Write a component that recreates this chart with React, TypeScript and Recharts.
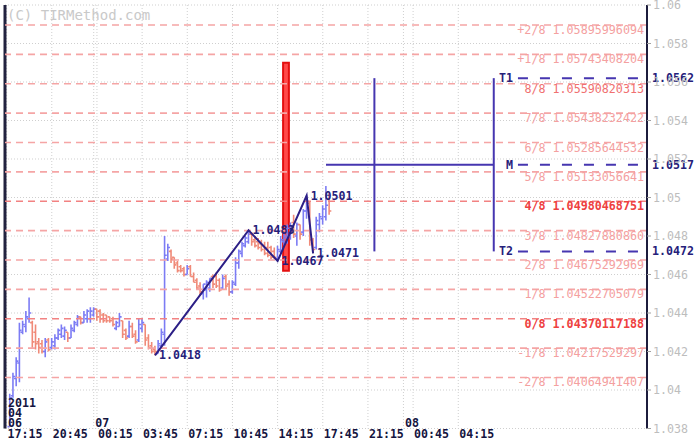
import React from 'react';
import {
  ComposedChart,
  Bar,
  Line,
  XAxis,
  YAxis,
  CartesianGrid,
  ReferenceLine,
  ReferenceArea,
  Customized,
} from 'recharts';

// ---------- data (15-minute bars, index 0 = 2011-04-06 17:15) ----------
const FIRST_BAR = 1;

const opens = [
  1.0381, 1.0397, 1.0406, 1.0414, 1.043, 1.0433, 1.0437, 1.0435, 1.043, 1.0425,
  1.0424, 1.042, 1.0426, 1.0422, 1.0423, 1.0427, 1.0429, 1.0428, 1.043, 1.0427,
  1.0431, 1.0434, 1.0438, 1.0435, 1.0437, 1.0437, 1.0439, 1.0442, 1.0441, 1.0439,
  1.0439, 1.0438, 1.0437, 1.0432, 1.0433, 1.0436, 1.0431, 1.0428, 1.0433, 1.0429,
  1.0426, 1.0432, 1.0434, 1.0427, 1.0423, 1.0421, 1.0419, 1.0423, 1.0429, 1.0468,
  1.0472, 1.0469, 1.0466, 1.0464, 1.0463, 1.046, 1.0464, 1.0459, 1.0457, 1.0454,
  1.045, 1.0452, 1.0453, 1.0459, 1.0459, 1.0457, 1.0453, 1.0459, 1.0455, 1.0451,
  1.0455, 1.0466, 1.0471, 1.0475, 1.0477, 1.0481, 1.0478, 1.0477, 1.0476, 1.0475,
  1.0474, 1.0474, 1.0472, 1.0468, 1.0472, 1.0477, 1.0479, 1.048, 1.0487, 1.048,
  1.0486, 1.0482, 1.0493, 1.0497, 1.0478, 1.0474, 1.0486, 1.0489, 1.049, 1.0499,
];
const highs = [
  1.0398, 1.0409, 1.0417, 1.0435, 1.0436, 1.0441, 1.0448, 1.0436, 1.0434, 1.0427,
  1.0426, 1.0427, 1.0427, 1.0427, 1.0429, 1.0432, 1.0434, 1.0433, 1.043, 1.0434,
  1.0436, 1.0439, 1.0438, 1.0441, 1.0442, 1.0443, 1.0443, 1.0442, 1.0442, 1.044,
  1.0439, 1.0438, 1.0438, 1.0436, 1.044, 1.0436, 1.0432, 1.0436, 1.0435, 1.0431,
  1.0437, 1.0437, 1.0434, 1.0429, 1.0425, 1.0423, 1.0426, 1.0432, 1.048, 1.0476,
  1.0473, 1.0469, 1.0467, 1.0465, 1.0464, 1.0465, 1.0465, 1.0461, 1.0458, 1.0456,
  1.0455, 1.0457, 1.0458, 1.046, 1.0461, 1.0458, 1.046, 1.046, 1.0457, 1.0457,
  1.0469, 1.0473, 1.0477, 1.048, 1.0483, 1.0482, 1.048, 1.0479, 1.0478, 1.0477,
  1.0477, 1.0475, 1.0474, 1.0475, 1.048, 1.0482, 1.0486, 1.0487, 1.0491, 1.0487,
  1.0486, 1.0494, 1.0501, 1.0498, 1.0479, 1.049, 1.0492, 1.0496, 1.0506, 1.0503,
];
const lows = [
  1.0381, 1.0396, 1.0402, 1.0404, 1.0429, 1.043, 1.0435, 1.0422, 1.0421, 1.0419,
  1.0419, 1.0417, 1.042, 1.0421, 1.0421, 1.0426, 1.0427, 1.0426, 1.0425, 1.0427,
  1.043, 1.0433, 1.0434, 1.0435, 1.0435, 1.0435, 1.0438, 1.0436, 1.0435, 1.0435,
  1.0435, 1.0435, 1.0433, 1.0431, 1.0433, 1.0427, 1.0426, 1.0427, 1.0427, 1.0424,
  1.0425, 1.043, 1.0423, 1.0421, 1.0419, 1.0418, 1.0419, 1.0422, 1.0423, 1.0467,
  1.0466, 1.0463, 1.0461, 1.0461, 1.0459, 1.046, 1.0459, 1.0456, 1.0452, 1.0449,
  1.0447, 1.0448, 1.0451, 1.0453, 1.0453, 1.0451, 1.0452, 1.0452, 1.0449, 1.045,
  1.0454, 1.0463, 1.0469, 1.0474, 1.0476, 1.0475, 1.0474, 1.0473, 1.0472, 1.047,
  1.0469, 1.0468, 1.0468, 1.0467, 1.0471, 1.0475, 1.0476, 1.0478, 1.0479, 1.0475,
  1.0478, 1.048, 1.0489, 1.0475, 1.0471, 1.0473, 1.0482, 1.0486, 1.0488, 1.0491,
];
const closes = [
  1.0396, 1.0407, 1.0415, 1.0431, 1.0434, 1.0438, 1.044, 1.0425, 1.0424, 1.0422,
  1.042, 1.0425, 1.0421, 1.0425, 1.0427, 1.0431, 1.0432, 1.0431, 1.0427, 1.0432,
  1.0435, 1.0438, 1.0435, 1.0439, 1.0441, 1.0441, 1.0442, 1.0438, 1.0437, 1.0436,
  1.0436, 1.0436, 1.0434, 1.0435, 1.0438, 1.0429, 1.0427, 1.0433, 1.0428, 1.0425,
  1.0434, 1.0435, 1.0426, 1.0422, 1.042, 1.042, 1.0424, 1.043, 1.047, 1.0474,
  1.0468, 1.0465, 1.0462, 1.0462, 1.046, 1.0463, 1.0459, 1.0456, 1.0453, 1.0451,
  1.0455, 1.0456, 1.0458, 1.0455, 1.0454, 1.0452, 1.0458, 1.0454, 1.0451, 1.0456,
  1.0466, 1.0472, 1.0476, 1.0479, 1.0481, 1.0477, 1.0475, 1.0474, 1.0473, 1.0471,
  1.047, 1.0469, 1.0469, 1.0473, 1.0478, 1.048, 1.0484, 1.0485, 1.0481, 1.0486,
  1.0481, 1.0493, 1.0498, 1.0478, 1.0473, 1.0488, 1.049, 1.0494, 1.0496, 1.0493,
];

// zigzag pivots
const pivotIdx = [46, 75, 84, 93, 95];
const pivotVal = [1.0418, 1.0483, 1.0467, 1.0501, 1.0471];

// Murrey math levels
const murreyNames = ['+2/8', '+1/8', '8/8', '7/8', '6/8', '5/8', '4/8', '3/8', '2/8', '1/8', '0/8', '-1/8', '-2/8'];
const murreyValues = [
  '1.05895996094', '1.05743408204', '1.05590820313', '1.05438232422', '1.05285644532',
  '1.05133056641', '1.04980468751', '1.04827880860', '1.04675292969', '1.04522705079',
  '1.04370117188', '1.04217529297', '1.04064941407',
];
const murreyStrong = ['4/8', '0/8'];
const murreyMedium = ['8/8'];

// projection targets
const targetNames = ['T1', 'M', 'T2'];
const targetValues = [1.0562, 1.0517, 1.0472];
const projStart = 99;
const projMid = 114;
const projEnd = 151;
const targetLineStart = 158.5;

// marker bar
const markerBar = { x1: 85.7, x2: 87.5, y1: 1.0462, y2: 1.057 };

// axes
const xDomain = [-0.5, 198.5];
const timeTickIdx = [0, 14, 28, 42, 56, 70, 84, 98, 112, 126, 140];
const timeLabels = ['17:15', '20:45', '00:15', '03:45', '07:15', '10:45', '14:15', '17:45', '21:15', '00:45', '04:15'];
const dateTickIdx = [0, 27, 123];
const dateLabels = [['2011', '04', '06'], ['07'], ['08']];
const yTicks = [1.038, 1.04, 1.042, 1.044, 1.046, 1.048, 1.05, 1.052, 1.054, 1.056, 1.058, 1.06];

// ---------- styling ----------
const BLUE = '#7c7cf4';
const RED = '#f08a78';
const NAVY = '#25207a';
const PURPLE = '#4636b0';
const MONO = '"DejaVu Sans Mono", monospace';

const data = opens.map((o, k) => {
  const i = FIRST_BAR + k;
  const p = pivotIdx.indexOf(i);
  return {
    i,
    o,
    h: highs[k],
    l: lows[k],
    c: closes[k],
    r: [lows[k], highs[k]],
    zz: p >= 0 ? pivotVal[p] : null,
  };
});

const xTicks = Array.from(new Set([...timeTickIdx, ...dateTickIdx])).sort((a, b) => a - b);

const OhlcShape = (props: any) => {
  const { x, y, width, height, payload } = props;
  if (x == null || y == null || payload == null) return null;
  const top = Math.min(y, y + height);
  const bot = Math.max(y, y + height);
  const span = payload.h - payload.l;
  const py = (p: number) => (span > 0 ? top + ((payload.h - p) / span) * (bot - top) : top);
  const cx = x + width / 2;
  const col = payload.c >= payload.o ? BLUE : RED;
  return (
    <g stroke={col} strokeWidth={1.6}>
      <line x1={cx} x2={cx} y1={top} y2={Math.max(bot, top + 1)} />
      <line x1={cx - 2.2} x2={cx} y1={py(payload.o)} y2={py(payload.o)} />
      <line x1={cx} x2={cx + 2.2} y1={py(payload.c)} y2={py(payload.c)} />
    </g>
  );
};

const TimeTick = (props: any) => {
  const { x, y, payload } = props;
  const v = payload.value;
  const ti = timeTickIdx.indexOf(v);
  const di = dateTickIdx.indexOf(v);
  const style = { fontFamily: MONO, fontSize: 11.6, fontWeight: 700, fill: '#141440' } as any;
  return (
    <g>
      {ti >= 0 && (
        <text x={x + 1} y={y + 9} textAnchor="start" style={style}>
          {timeLabels[ti]}
        </text>
      )}
      {di >= 0 &&
        dateLabels[di].map((s, j) => (
          <text
            key={j}
            x={x + 1.5}
            y={y - 1.5 - (dateLabels[di].length - 1 - j) * 10}
            textAnchor="start"
            style={style}
          >
            {s}
          </text>
        ))}
    </g>
  );
};

const MurreyLabel = (props: any) => {
  const { viewBox, text, name } = props;
  if (!viewBox) return null;
  const strong = murreyStrong.includes(name);
  const medium = murreyMedium.includes(name);
  return (
    <text
      x={viewBox.x + viewBox.width - 3}
      y={viewBox.y + 9}
      textAnchor="end"
      style={{
        fontFamily: MONO,
        fontSize: 11.7,
        fontWeight: strong ? 700 : 400,
        fill: strong ? '#ee4040' : medium ? '#f07070' : '#f4a0a0',
      }}
    >
      {text}
    </text>
  );
};

const TargetLabel = (props: any) => {
  const { viewBox, name, value } = props;
  if (!viewBox) return null;
  const style = { fontFamily: MONO, fontSize: 11.6, fontWeight: 700, fill: NAVY } as any;
  return (
    <g>
      <text x={viewBox.x - 5} y={viewBox.y + 4} textAnchor="end" style={style}>
        {name}
      </text>
      <text x={viewBox.x + viewBox.width + 5} y={viewBox.y + 4} textAnchor="start" style={style}>
        {value.toFixed(4)}
      </text>
    </g>
  );
};

const PivotLabel = (props: any) => {
  const { x, y, value } = props;
  if (value == null || x == null) return null;
  return (
    <text
      x={x + 4}
      y={y + 4}
      textAnchor="start"
      style={{ fontFamily: MONO, fontSize: 11.6, fontWeight: 700, fill: NAVY }}
    >
      {Number(value).toFixed(4)}
    </text>
  );
};

const Watermark = () => (
  <text x={7} y={20} style={{ fontFamily: MONO, fontSize: 14, fill: '#c9c9c9' }}>
    (C) TIRMethod.com
  </text>
);

export default function App() {
  return (
    <div style={{ position: 'absolute', left: 0, top: 0, width: 695, height: 440, background: '#ffffff' }}>
      <ComposedChart width={695} height={440} data={data} margin={{ top: 5, right: 0, bottom: 0, left: 5 }}>
        <CartesianGrid stroke="#cfcfcf" strokeDasharray="1 2" />
        <XAxis
          dataKey="i"
          type="number"
          domain={xDomain}
          ticks={xTicks}
          interval={0}
          height={11.5}
          axisLine={false}
          tickLine={false}
          tickSize={0}
          tickMargin={0}
          tick={<TimeTick />}
          allowDataOverflow
        />
        <YAxis
          orientation="right"
          type="number"
          domain={[1.038, 1.06]}
          ticks={yTicks}
          interval={0}
          width={48}
          axisLine={{ stroke: '#1c1c3c', strokeWidth: 2 }}
          tickLine={{ stroke: '#a0a0a0' }}
          tickSize={4}
          tickMargin={2}
          tick={{ fill: '#bdbdbd', fontSize: 11.6, fontFamily: MONO }}
          tickFormatter={(v: number) => String(v)}
          allowDataOverflow
        />
        <ReferenceLine x={xDomain[0]} stroke="#22223f" strokeWidth={3} />
        {murreyValues.map((v, k) => (
          <ReferenceLine
            key={murreyNames[k]}
            y={Number(v)}
            stroke={murreyStrong.includes(murreyNames[k]) ? '#f28282' : '#f5a5a5'}
            strokeWidth={1.6}
            strokeDasharray="7 5"
            label={<MurreyLabel text={`${murreyNames[k]} ${v}`} name={murreyNames[k]} />}
          />
        ))}
        <Bar dataKey="r" shape={<OhlcShape />} barSize={3} isAnimationActive={false} />
        <ReferenceArea
          x1={markerBar.x1}
          x2={markerBar.x2}
          y1={markerBar.y1}
          y2={markerBar.y2}
          fill="#ff4a4a"
          fillOpacity={1}
          stroke="#e41010"
          strokeWidth={2}
        />
        <Line
          type="linear"
          dataKey="zz"
          connectNulls
          stroke="#2c1f86"
          strokeWidth={2}
          dot={false}
          activeDot={false}
          isAnimationActive={false}
          label={<PivotLabel />}
        />
        <ReferenceLine
          segment={[{ x: projStart, y: targetValues[1] }, { x: projEnd, y: targetValues[1] }]}
          stroke={PURPLE}
          strokeWidth={2}
        />
        <ReferenceLine
          segment={[{ x: projMid, y: targetValues[0] }, { x: projMid, y: targetValues[2] }]}
          stroke={PURPLE}
          strokeWidth={2}
        />
        <ReferenceLine
          segment={[{ x: projEnd, y: targetValues[0] }, { x: projEnd, y: targetValues[2] }]}
          stroke={PURPLE}
          strokeWidth={2}
        />
        {targetValues.map((v, k) => (
          <ReferenceLine
            key={targetNames[k]}
            segment={[{ x: targetLineStart, y: v }, { x: xDomain[1], y: v }]}
            stroke={PURPLE}
            strokeWidth={2}
            strokeDasharray="10 12"
            label={<TargetLabel name={targetNames[k]} value={v} />}
          />
        ))}
        <Customized component={Watermark} />
      </ComposedChart>
    </div>
  );
}
